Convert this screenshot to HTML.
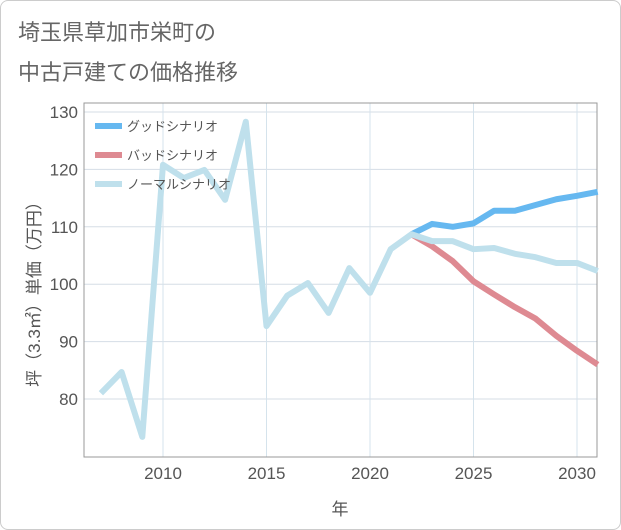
<!DOCTYPE html>
<html><head><meta charset="utf-8"><style>
body{margin:0;background:#fff;font-family:"Liberation Sans","Noto Sans CJK JP",sans-serif;}
#wrap{position:relative;width:619px;height:528px;border:1px solid #ccc;border-radius:8px;overflow:hidden;}
.title{position:absolute;left:17px;font-size:22px;color:#666;}
</style></head><body>
<div id="wrap">
<div class="title" style="top:14px">埼玉県草加市栄町の</div>
<div class="title" style="top:54px">中古戸建ての価格推移</div>
<svg id="chart" width="621" height="530" style="position:absolute;left:-1px;top:-1px"></svg>
</div>
<script>
const years=[2007,2008,2009,2010,2011,2012,2013,2014,2015,2016,2017,2018,2019,2020,2021,2022];
const hist=[81.0,84.7,73.4,120.8,118.5,119.9,114.7,128.3,92.7,98.0,100.2,95.0,102.8,98.5,106.1,108.7];
const futYears=[2022,2023,2024,2025,2026,2027,2028,2029,2030,2031];
const good=[108.7,110.5,110.0,110.6,112.8,112.8,113.8,114.8,115.4,116.1];
const normal=[108.7,107.5,107.5,106.1,106.3,105.3,104.7,103.7,103.7,102.3];
const bad=[108.7,106.6,104.0,100.5,98.2,96.0,94.0,91.0,88.4,86.0];
const yTicks=[80,90,100,110,120,130];
const xTicks=[2010,2015,2020,2025,2030];
const L=84,R=597,T=103,B=457;
const x=v=>163+(v-2010)*20.7;
const y=v=>112+(130-v)*5.74;
const svg=document.getElementById('chart');
const NS='http://www.w3.org/2000/svg';
function mk(t,a){const e=document.createElementNS(NS,t);for(const k in a)e.setAttribute(k,a[k]);svg.appendChild(e);return e;}
yTicks.forEach(v=>{const l=mk('line',{x1:L,x2:R,y1:y(v),y2:y(v),stroke:'#d5dde6','stroke-width':1});


const t=mk('text',{x:L-6,y:y(v)+6,'text-anchor':'end','font-size':17,fill:'#555'});t.textContent=v;

});
xTicks.forEach(v=>{const l=mk('line',{x1:x(v),x2:x(v),y1:T,y2:B,stroke:'#d5e3ec','stroke-width':1});


const t=mk('text',{x:x(v),y:B+22,'text-anchor':'middle','font-size':17,fill:'#555'});t.textContent=v;

});
const fr=mk('rect',{x:L,y:T,width:R-L,height:B-T,fill:'none',stroke:'#999','stroke-width':1});


function line(xs,ys,c,n){const p=mk('polyline',{points:xs.map((v,i)=>x(v)+','+y(ys[i])).join(' '),fill:'none',stroke:c,'stroke-width':6,'stroke-linejoin':'round'});

}
line(futYears,bad,'#de8a92','bad-scenario-line');
line(futYears,good,'#66b8f0','good-scenario-line');
line(years.concat(futYears.slice(1)),hist.concat(normal.slice(1)),'#bfe0ec','normal-scenario-line');
const leg=[['グッドシナリオ','#66b8f0'],['バッドシナリオ','#de8a92'],['ノーマルシナリオ','#bfe0ec']];
leg.forEach((d,i)=>{const yy=126+i*29;
const l=mk('line',{x1:95,x2:122,y1:yy,y2:yy,stroke:d[1],'stroke-width':6});


const t=mk('text',{x:127,y:yy+5,'font-size':13,fill:'#555'});t.textContent=d[0];

});
const xt=mk('text',{x:340,y:515,'text-anchor':'middle','font-size':17,fill:'#555'});xt.textContent='年';


const yt=mk('text',{x:0,y:0,'text-anchor':'middle','font-size':17,fill:'#555',transform:'translate(40,290) rotate(-90)'});yt.textContent='坪（3.3㎡）単価（万円）';


</script>
</body></html>
